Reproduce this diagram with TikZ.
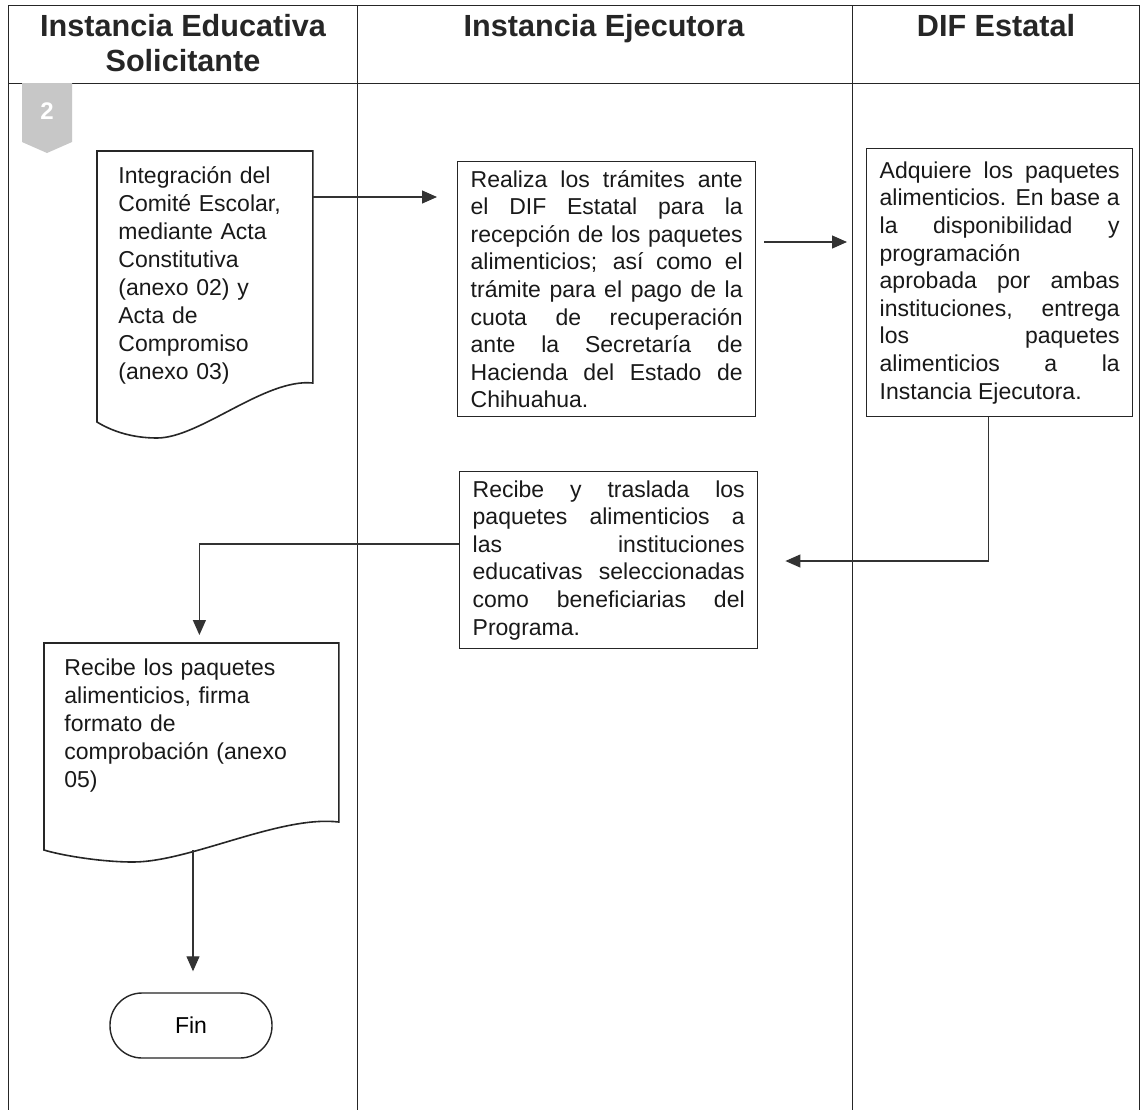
\documentclass[tikz,border=0pt]{standalone}
\usepackage{fontspec}
\setmainfont{Liberation Sans}
\usepackage{tikz}
\usetikzlibrary{arrows.meta,positioning,calc}

\begin{document}
\begin{tikzpicture}[x=0.5pt,y=-0.5pt,
  laneline/.style={line width=0.5pt,draw=black!85},
  lanehead/.style={anchor=north,align=center,inner sep=0pt,text=black!85,font=\fontsize{15.3}{17.5}\selectfont\bfseries},
  stepbox/.style={draw=black!85,line width=0.7pt,anchor=north west,align=justify,inner ysep=3pt,text=black!90,font=\fontsize{11.5}{13.8}\selectfont},
  doctext/.style={anchor=north west,align=left,inner ysep=7.5pt,text=black!90,font=\fontsize{11.5}{14}\selectfont},
  docline/.style={draw=black!85,line width=0.8pt},
  flow/.style={draw=black!80,line width=0.6pt,-{Triangle[length=7.5pt,width=6.5pt]}},
  endbox/.style={draw=black!85,line width=0.7pt,rounded corners=16pt,minimum width=81pt,minimum height=32.5pt,font=\fontsize{11.5}{14}\selectfont}]
  \useasboundingbox (0,0) rectangle (1142,1110);
  \fill[white] (0,0) rectangle (1142,1110);
  \draw[laneline] (8,5) -- (1139,5) (8,83) -- (1139,83);
  \foreach \x in {8,357,852,1139}{\draw[laneline] (\x,5) -- (\x,1110);}
  \node[lanehead] (h1) at (183,14) {Instancia Educativa\\Solicitante};
  \node[lanehead] (h2) at (604,14) {Instancia Ejecutora};
  \node[lanehead] (h3) at (996,14) {DIF Estatal};
  \fill[black!22] (22,83) -- (72,83) -- (72,142) -- (47,153) -- (22,142) -- cycle;
  \node[text=white,font=\fontsize{12}{14}\selectfont\bfseries] (paso) at (47,111) {2};

  \node[doctext,text width=86.5pt,inner xsep=10.5pt] (integra) at (97,151) {Integración del\\Comité Escolar,\\mediante Acta\\Constitutiva\\(anexo 02) y\\Acta de\\Compromiso\\(anexo 03)};
  \draw[docline] (integra.north west) -- (integra.north east) -- ++(0,232) .. controls (265,378) and (200,438) .. (157,438) .. controls (130,438) and (110,430) .. (97,422) -- cycle;

  \node[stepbox,text width=136pt,inner xsep=6.5pt,minimum height=127.5pt] (realiza) at (457,161) {Realiza los trámites ante\linebreak el DIF Estatal para la\linebreak recepción de los paquetes\linebreak alimenticios; así como el\linebreak trámite para el pago de la\linebreak cuota de recuperación\linebreak ante la Secretaría de\linebreak Hacienda del Estado de\linebreak Chihuahua.};
  \node[stepbox,text width=120pt,inner xsep=6.5pt,minimum height=134pt] (adquiere) at (866,148) {Adquiere los paquetes\linebreak alimenticios. En base a\linebreak la disponibilidad y\linebreak programación\\ aprobada por ambas\linebreak instituciones, entrega\linebreak los paquetes\linebreak alimenticios a la\linebreak Instancia Ejecutora.};
  \node[stepbox,text width=136pt,inner xsep=6.5pt,minimum height=88.5pt] (traslada) at (459,471) {Recibe y traslada los\linebreak paquetes alimenticios a\linebreak las instituciones\linebreak educativas seleccionadas\linebreak como beneficiarias del\linebreak Programa.};

  \node[doctext,text width=127pt,inner xsep=10pt] (entrega) at (44,643) {Recibe los paquetes\\alimenticios, firma\\formato de\\comprobación (anexo\\05)};
  \draw[docline] (entrega.north west) -- (entrega.north east) -- ++(0,179) .. controls (280,815) and (190,862) .. (133,862) .. controls (100,862) and (60,855) .. (44,850) -- cycle;

  \node[endbox] (fin) at (191,1025.5) {Fin};

  \coordinate (r1) at (0,197);
  \coordinate (r2) at (0,242);
  \coordinate (r3) at (0,561);
  \coordinate (r4) at (0,544);
  \coordinate (w5) at (193,850);
  \draw[flow,shorten >=10pt] (integra.east |- r1) -- (realiza.west |- r1);
  \draw[flow,shorten <=4pt,shorten >=9.5pt] (realiza.east |- r2) -- (adquiere.west |- r2);
  \draw[flow,shorten >=13.5pt] ([xshift=-5.5pt]adquiere.south) |- (traslada.east |- r3);
  \draw[flow,shorten >=4pt] (traslada.west |- r4) -| ([xshift=4pt]entrega.north);
  \draw[flow,shorten >=10.5pt] (w5) -- (fin.north -| w5);
\end{tikzpicture}
\end{document}
